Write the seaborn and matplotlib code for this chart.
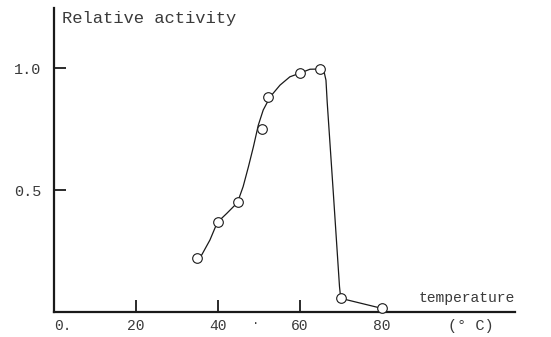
import matplotlib
matplotlib.use('Agg')
import matplotlib.pyplot as plt
import pandas as pd
import seaborn as sns

# measured points (circles)
temp = [35, 40, 45, 50.7, 52.3, 60, 65, 70, 80]
activity = [0.222, 0.37, 0.45, 0.75, 0.88, 0.978, 0.996, 0.056, 0.015]

# hand-drawn curve
curve_temp = [35, 36.1, 38.1, 39.9, 42.2, 44.8, 46.2, 47.5, 48.7, 49.9, 51.1, 52.8, 55.2,
              57.6, 59.9, 62.5, 65.2, 66.0, 66.4, 66.7, 68.2, 69.7, 70, 80]
curve_activity = [0.222, 0.234, 0.295, 0.367, 0.404, 0.448, 0.514, 0.596, 0.677, 0.766, 0.828, 0.882, 0.930,
                  0.964, 0.978, 0.995, 0.996, 0.98, 0.95, 0.86, 0.486, 0.104, 0.056, 0.015]

x_ticks = [0, 20, 40, 60, 80]
x_labels = ["0.", "20", "40", "60", "80"]
y_ticks = [0.5, 1.0]
y_labels = ["0.5", "1.0"]

sns.set_style("white")
plt.rcParams['font.family'] = ['Liberation Mono', 'DejaVu Sans Mono']

ink = "#1a1a1a"
text_col = "#3a3a3a"

fig = plt.figure(figsize=(5.51, 3.37), dpi=100)
ax = fig.add_axes([53.7 / 551, (337 - 312) / 337, (515 - 53.7) / 551, (312 - 8) / 337])

curve = pd.DataFrame({"temp": curve_temp, "activity": curve_activity})
points = pd.DataFrame({"temp": temp, "activity": activity})

sns.lineplot(data=curve, x="temp", y="activity", sort=False, estimator=None,
             color=ink, linewidth=0.9, ax=ax, zorder=2)
sns.scatterplot(data=points, x="temp", y="activity", s=48, facecolor="white",
                edgecolor=ink, linewidth=0.8, ax=ax, zorder=3, clip_on=False)

ax.set_xlim(0, 112.5)
ax.set_ylim(0, 1.246)

for side in ["top", "right"]:
    ax.spines[side].set_visible(False)
for side in ["left", "bottom"]:
    ax.spines[side].set_linewidth(1.6)
    ax.spines[side].set_color(ink)

ax.set_xticks(x_ticks)
ax.set_xticklabels(x_labels)
ax.tick_params(axis="x", which="major", bottom=True, direction="in", length=8.6, width=1.3, color=ink,
               pad=5, labelsize=10.5, labelcolor=text_col)
# the original has no tick marks at 0 and 80, only labels
for i in [0, 4]:
    ax.xaxis.get_major_ticks()[i].tick1line.set_visible(False)
ax.get_xticklabels()[0].set_ha("left")

ax.set_yticks(y_ticks)
ax.set_yticklabels(y_labels)
ax.tick_params(axis="y", which="major", left=True, direction="in", length=8.6, width=1.3, color=ink,
               pad=9, labelsize=11, labelcolor=text_col)

ax.set_xlabel("")
ax.set_ylabel("")

ax.text(0.017, 0.965, "Relative activity", transform=ax.transAxes, fontsize=12.3,
        color=text_col, va="center", ha="left")
ax.text(1.0, 0.045, "temperature", transform=ax.transAxes, fontsize=10.5,
        color=text_col, va="center", ha="right")
ax.text(0.855, -0.045, "(° C)", transform=ax.transAxes, fontsize=11,
        color=text_col, va="center", ha="left", clip_on=False)
ax.text(0.438, -0.04, "·", transform=ax.transAxes, fontsize=9,
        color=text_col, va="center", ha="center", clip_on=False)

fig.savefig("out.png", dpi=100)
